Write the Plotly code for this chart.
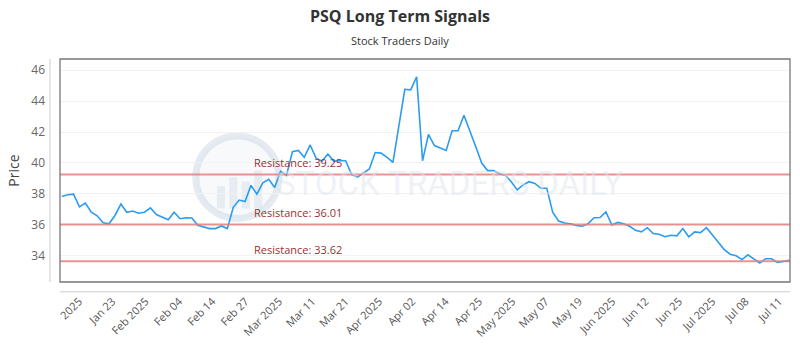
import plotly.graph_objects as go

title_text = "PSQ Long Term Signals"
subtitle_text = "Stock Traders Daily"

prices = [
    37.82, 37.93, 37.97, 37.15, 37.40, 36.80, 36.57, 36.12, 36.05, 36.59,
    37.33, 36.80, 36.88, 36.74, 36.80, 37.08, 36.65, 36.48, 36.31, 36.80,
    36.38, 36.44, 36.43, 35.95, 35.85, 35.74, 35.74, 35.91, 35.74, 37.12,
    37.59, 37.50, 38.54, 37.97, 38.71, 38.93, 38.40, 39.46, 39.18, 40.72,
    40.81, 40.36, 41.16, 40.31, 40.10, 40.58, 40.10, 40.15, 40.14, 39.25,
    39.08, 39.35, 39.60, 40.67, 40.63, 40.35, 40.03, 42.40, 44.77, 44.73,
    45.58, 40.14, 41.84, 41.12, 40.95, 40.80, 42.08, 42.08, 43.09, 42.11,
    41.05, 39.99, 39.50, 39.50, 39.29, 39.20, 38.78, 38.25, 38.57, 38.78,
    38.67, 38.35, 38.35, 36.80, 36.23, 36.10, 36.06, 35.95, 35.89, 36.06,
    36.44, 36.46, 36.82, 35.97, 36.14, 36.06, 35.89, 35.63, 35.53, 35.80,
    35.42, 35.38, 35.21, 35.31, 35.27, 35.74, 35.21, 35.53, 35.48, 35.80,
    35.36, 34.86, 34.38, 34.08, 33.98, 33.73, 34.04, 33.79, 33.51, 33.79,
    33.79, 33.55, 33.60, 33.68,
]

tick_labels = [
    "2025", "Jan 23", "Feb 2025", "Feb 04", "Feb 14", "Feb 27", "Mar 2025",
    "Mar 11", "Mar 21", "Apr 2025", "Apr 02", "Apr 14", "Apr 25", "May 2025",
    "May 07", "May 19", "Jun 2025", "Jun 12", "Jun 25", "Jul 2025", "Jul 08",
    "Jul 11",
]

resistance_levels = [39.25, 36.01, 33.62]

x_idx = list(range(len(prices)))
tick_start = 2.92
tick_step = 5.635
tick_pos = [tick_start + tick_step * k for k in range(len(tick_labels))]

fig = go.Figure()
fig.add_trace(go.Scatter(
    x=x_idx, y=prices, mode="lines",
    line=dict(color="#2b9cf0", width=1.6),
    hoverinfo="skip", showlegend=False,
))

shapes = []
annotations = []

# watermark logo circle
shapes.append(dict(type="circle", xref="paper", yref="paper",
                   x0=0.186, x1=0.300, y0=0.285, y1=0.655,
                   line=dict(color="rgba(205,216,229,0.5)", width=7),
                   fillcolor="rgba(236,241,246,0.4)", layer="below"))
for bx, bh in [(0.215, 0.10), (0.232, 0.14), (0.249, 0.12), (0.266, 0.17)]:
    shapes.append(dict(type="rect", xref="paper", yref="paper",
                       x0=bx, x1=bx + 0.011, y0=0.33, y1=0.33 + bh,
                       line=dict(width=0), fillcolor="rgba(210,220,231,0.45)",
                       layer="below"))
annotations.append(dict(text="STOCK TRADERS DAILY", xref="paper", yref="paper",
                        x=0.533, y=0.44, showarrow=False, yanchor="middle",
                        font=dict(family="Liberation Sans Narrow, Roboto, sans-serif",
                                  size=33, color="rgba(222,228,235,0.5)")))

for lvl in resistance_levels:
    shapes.append(dict(type="line", xref="paper", yref="y", x0=0, x1=1,
                       y0=lvl, y1=lvl,
                       line=dict(color="rgba(228,128,128,0.85)", width=2)))
    annotations.append(dict(text=f"Resistance: {lvl:.2f}", x=32.2, y=lvl,
                            xref="x", yref="y", xanchor="left", yanchor="bottom",
                            yshift=2, showarrow=False,
                            font=dict(family="Open Sans, sans-serif", size=11,
                                      color="#9a3030")))

# frame
shapes.append(dict(type="rect", xref="paper", yref="paper", x0=0, x1=1, y0=0, y1=1,
                   line=dict(color="#777777", width=1.3)))
# offset y-axis line and lower x-axis line
shapes.append(dict(type="line", xref="paper", yref="paper", x0=-0.0137, x1=-0.0137,
                   y0=0.0, y1=1.0, line=dict(color="#cccccc", width=1)))
shapes.append(dict(type="line", xref="paper", yref="paper", x0=0, x1=1,
                   y0=-0.044, y1=-0.044, line=dict(color="#cccccc", width=1)))

annotations.append(dict(text=f"<b>{title_text}</b>", xref="paper", yref="paper",
                        x=0.466, y=1.194, showarrow=False, xanchor="center",
                        yanchor="middle",
                        font=dict(family="Open Sans, sans-serif", size=16, color="#333333")))
annotations.append(dict(text=subtitle_text, xref="paper", yref="paper",
                        x=0.466, y=1.084, showarrow=False, xanchor="center",
                        yanchor="middle",
                        font=dict(family="Open Sans, sans-serif", size=11, color="#333333")))

fig.update_layout(
    width=800, height=350,
    margin=dict(l=60, r=10, t=59, b=64),
    paper_bgcolor="white", plot_bgcolor="white",
    shapes=shapes, annotations=annotations,
    font=dict(family="Open Sans, sans-serif", color="#555555"),
    xaxis=dict(range=[-0.29, 123.12], tickvals=tick_pos, ticktext=tick_labels,
               tickangle=-45, showgrid=False, zeroline=False, showline=False,
               ticks="", tickfont=dict(size=11, color="#555555"),
               ticklabelstandoff=10),
    yaxis=dict(range=[32.28, 46.73], tickvals=[34, 36, 38, 40, 42, 44, 46],
               showgrid=True, gridcolor="#f2f2f2", zeroline=False, showline=False,
               ticks="", tickfont=dict(size=12, color="#666666"),
               ticklabelstandoff=14,
               title=dict(text="Price", font=dict(size=14, color="#444444"), standoff=8)),
)

fig.write_html("out.html")
